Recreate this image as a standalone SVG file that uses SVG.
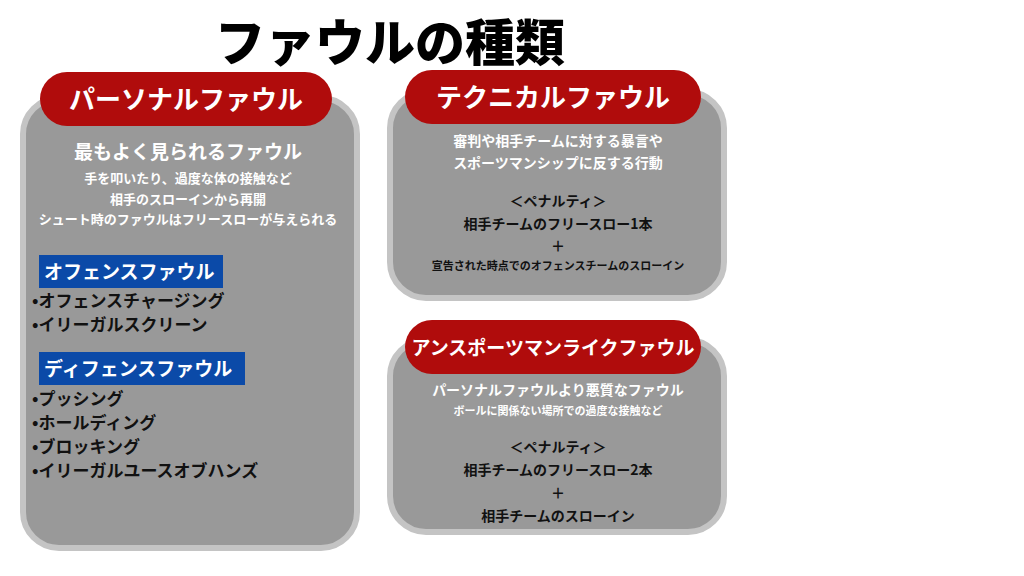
<svg xmlns="http://www.w3.org/2000/svg" width="1024" height="576" viewBox="0 0 1024 576">
<style>
.box{fill:#999;stroke:#c4c4c4;stroke-width:6}
.pill{fill:#b00c0c}
.blue{fill:#0b4aa8}
text{font-family:"Noto Sans CJK JP","Noto Sans",sans-serif;font-weight:bold}
.h{fill:#fff;font-size:26px;text-anchor:middle}
.w{fill:#fff;text-anchor:middle}
.k{fill:#111;text-anchor:middle}
.l{fill:#111;font-size:17px}
</style>
<rect width="1024" height="576" fill="#fff"/>
<text x="390" y="61" style="font-size:50px;font-weight:900" fill="#000" text-anchor="middle">ファウルの種類</text>
<g id="personal">
<rect class="box" x="23" y="98" width="334" height="450" rx="36"/>
<rect class="pill" x="40" y="72" width="292" height="54" rx="27"/>
<text class="h" x="186" y="109">パーソナルファウル</text>
<text class="w" x="188" y="159" font-size="19">最もよく見られるファウル</text>
<text class="w" x="188" y="183" font-size="13">手を叩いたり、過度な体の接触など</text>
<text class="w" x="188" y="204" font-size="13">相手のスローインから再開</text>
<text class="w" x="188" y="224" font-size="13">シュート時のファウルはフリースローが与えられる</text>
<rect class="blue" x="39" y="255" width="184" height="33"/>
<text x="44" y="279" fill="#fff" font-size="19">オフェンスファウル</text>
<text class="l" x="32" y="307">•オフェンスチャージング</text>
<text class="l" x="32" y="331">•イリーガルスクリーン</text>
<rect class="blue" x="39" y="352" width="206" height="33"/>
<text x="44" y="376" fill="#fff" font-size="19">ディフェンスファウル</text>
<text class="l" x="32" y="405">•プッシング</text>
<text class="l" x="32" y="429">•ホールディング</text>
<text class="l" x="32" y="453">•ブロッキング</text>
<text class="l" x="32" y="477">•イリーガルユースオブハンズ</text>
</g>
<g id="technical">
<rect class="box" x="390" y="92" width="334" height="206" rx="36"/>
<rect class="pill" x="405" y="70" width="296" height="54" rx="27"/>
<text class="h" x="553" y="107">テクニカルファウル</text>
<text class="w" x="558" y="146" font-size="14">審判や相手チームに対する暴言や</text>
<text class="w" x="558" y="168" font-size="14">スポーツマンシップに反する行動</text>
<text class="k" x="558" y="206" font-size="14">＜ペナルティ＞</text>
<text class="k" x="558" y="229" font-size="14">相手チームのフリースロー1本</text>
<text class="k" x="558" y="251" font-size="14">＋</text>
<text class="k" x="558" y="270" font-size="11">宣告された時点でのオフェンスチームのスローイン</text>
</g>
<g id="unsportsmanlike">
<rect class="box" x="390" y="340" width="334" height="192" rx="36"/>
<rect class="pill" x="405" y="320" width="296" height="54" rx="27"/>
<text class="h" x="553" y="355" style="font-size:19px">アンスポーツマンライクファウル</text>
<text class="w" x="558" y="395" font-size="14">パーソナルファウルより悪質なファウル</text>
<text class="w" x="558" y="415" font-size="11">ボールに関係ない場所での過度な接触など</text>
<text class="k" x="558" y="452" font-size="14">＜ペナルティ＞</text>
<text class="k" x="558" y="475" font-size="14">相手チームのフリースロー2本</text>
<text class="k" x="558" y="498" font-size="14">＋</text>
<text class="k" x="558" y="521" font-size="14">相手チームのスローイン</text>
</g>
</svg>
